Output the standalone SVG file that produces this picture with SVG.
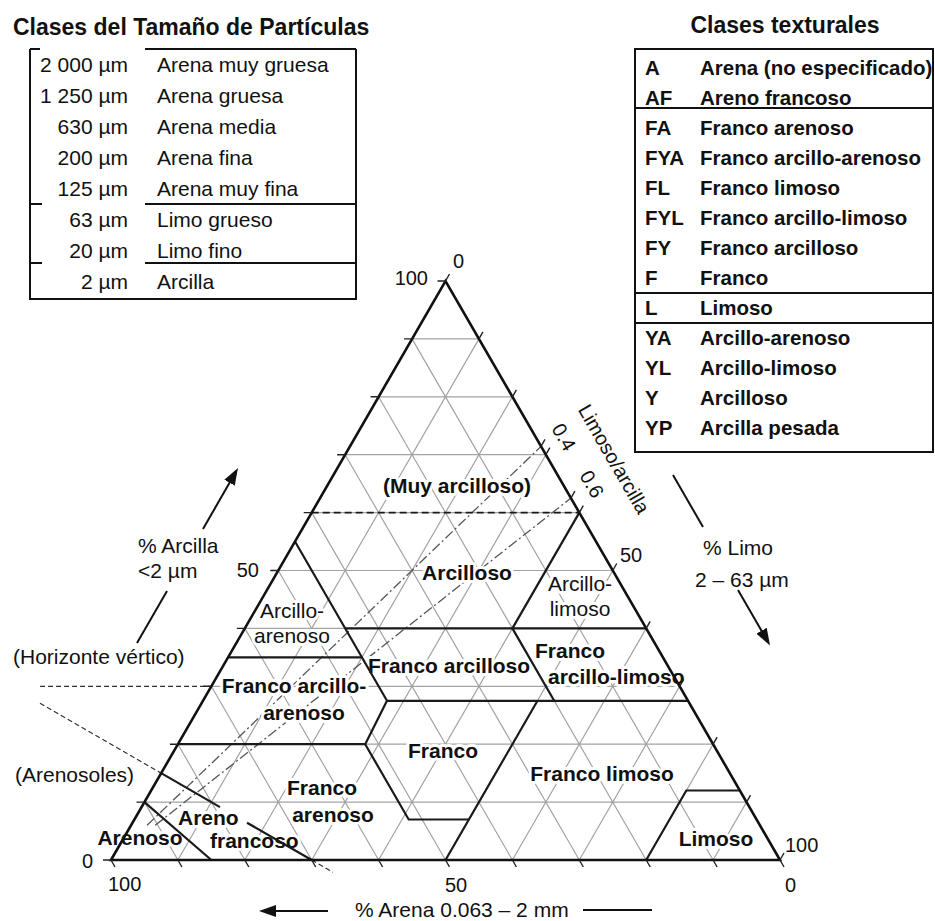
<svg xmlns="http://www.w3.org/2000/svg" width="935" height="921" viewBox="0 0 935 921">
  <style>
    text { font-family: "Liberation Sans", Arial, Helvetica, sans-serif; fill: #111; }
    .ttl { font-size: 23px; font-weight: bold; }
    .lg { font-size: 21px; }
    .lgb { font-size: 20.5px; font-weight: bold; }
    .num { font-size: 20px; }
    .cls { font-size: 21px; font-weight: bold; stroke: #fff; stroke-width: 6; stroke-linejoin: round; paint-order: stroke; }
    .clr { font-size: 21px; stroke: #fff; stroke-width: 6; stroke-linejoin: round; paint-order: stroke; }
    .ann { font-size: 21px; }
    .rot { font-size: 20px; }
    .box { fill: none; stroke: #111; stroke-width: 2; }
    .grid { fill: none; stroke: #a3a3a3; stroke-width: 1.2; }
    .tick { fill: none; stroke: #222; stroke-width: 1.4; }
    .edge { fill: none; stroke: #111; stroke-width: 2.6; stroke-linejoin: miter; }
    .bound { fill: none; stroke: #1a1a1a; stroke-width: 2.2; stroke-linejoin: miter; }
    .heavy { fill: none; stroke: #1a1a1a; stroke-width: 1.8; stroke-dasharray: 7 4; }
    .ext { fill: none; stroke: #333; stroke-width: 1.3; stroke-dasharray: 5 3; }
    .ratio { fill: none; stroke: #555; stroke-width: 1.3; stroke-dasharray: 10 3 2 3; }
    .arr { fill: none; stroke: #111; stroke-width: 2; }
  </style>
  <defs>
    <marker id="head" markerUnits="userSpaceOnUse" markerWidth="17" markerHeight="12" viewBox="0 0 17 12" refX="13" refY="6" orient="auto">
      <path d="M0,0 L17,6 L0,12 Z" fill="#111"/>
    </marker>
  </defs>

  <rect width="935" height="921" fill="#fff"/>

  <!-- Particle size classes table -->
  <g id="particle-sizes">
    <text class="ttl" x="13" y="35">Clases del Tamaño de Partículas</text>
    <path class="box" d="M30 49V299H356V49M30 49H40M145 49H356M30 204H42M145 204H356M30 263H42M145 263H356"/>
    <g class="lg" text-anchor="end">
      <text x="128" y="72">2 000 µm</text>
      <text x="128" y="103">1 250 µm</text>
      <text x="128" y="134">630 µm</text>
      <text x="128" y="165">200 µm</text>
      <text x="128" y="196">125 µm</text>
      <text x="128" y="227">63 µm</text>
      <text x="128" y="258">20 µm</text>
      <text x="128" y="289">2 µm</text>
    </g>
    <g class="lg">
      <text x="157" y="72">Arena muy gruesa</text>
      <text x="157" y="103">Arena gruesa</text>
      <text x="157" y="134">Arena media</text>
      <text x="157" y="165">Arena fina</text>
      <text x="157" y="196">Arena muy fina</text>
      <text x="157" y="227">Limo grueso</text>
      <text x="157" y="258">Limo fino</text>
      <text x="157" y="289">Arcilla</text>
    </g>
  </g>

  <!-- Texture class key -->
  <g id="texture-key">
    <text class="ttl" x="785" y="33" text-anchor="middle">Clases texturales</text>
    <rect class="box" x="635" y="49" width="298" height="403"/>
    <path class="box" d="M635 108H933M635 293H933M635 323H933"/>
    <g class="lgb">
      <text x="645" y="75">A</text><text x="700" y="75">Arena (no especificado)</text>
      <text x="645" y="105">AF</text><text x="700" y="105">Areno francoso</text>
      <text x="645" y="135">FA</text><text x="700" y="135">Franco arenoso</text>
      <text x="645" y="165">FYA</text><text x="700" y="165">Franco arcillo-arenoso</text>
      <text x="645" y="195">FL</text><text x="700" y="195">Franco limoso</text>
      <text x="645" y="225">FYL</text><text x="700" y="225">Franco arcillo-limoso</text>
      <text x="645" y="255">FY</text><text x="700" y="255">Franco arcilloso</text>
      <text x="645" y="285">F</text><text x="700" y="285">Franco</text>
      <text x="645" y="315">L</text><text x="700" y="315">Limoso</text>
      <text x="645" y="345">YA</text><text x="700" y="345">Arcillo-arenoso</text>
      <text x="645" y="375">YL</text><text x="700" y="375">Arcillo-limoso</text>
      <text x="645" y="405">Y</text><text x="700" y="405">Arcilloso</text>
      <text x="645" y="435">YP</text><text x="700" y="435">Arcilla pesada</text>
    </g>
  </g>

  <!-- 10 % grid: clay (horizontal), silt and sand (diagonals) -->
  <g id="grid">
    <path class="grid" d="M144.45 802.1H746.55M177.9 744.2H713.1M211.35 686.3H679.65M244.8 628.4H646.2M278.25 570.5H612.75M311.7 512.6H579.3M345.15 454.7H545.85M378.6 396.8H512.4M412.05 338.9H478.95
      M478.95 338.9L177.9 860M512.4 396.8L244.8 860M545.85 454.7L311.7 860M579.3 512.6L378.6 860M612.75 570.5L445.5 860M646.2 628.4L512.4 860M679.65 686.3L579.3 860M713.1 744.2L646.2 860M746.55 802.1L713.1 860
      M412.05 338.9L713.1 860M378.6 396.8L646.2 860M345.15 454.7L579.3 860M311.7 512.6L512.4 860M278.25 570.5L445.5 860M244.8 628.4L378.6 860M211.35 686.3L311.7 860M177.9 744.2L244.8 860M144.45 802.1L177.9 860"/>
  </g>

  <!-- silt/clay ratio lines and outside extensions -->
  <g id="guides">
    <path class="ratio" d="M147.1 825.3L541 446.4"/>
    <path class="ratio" d="M155.2 825.3L570.9 498.1"/>
    <path class="heavy" d="M311.7 512.6H579.3"/>
    <path class="ext" d="M40 686.3H211.35"/>
    <path class="ext" d="M40 703.2L161.18 773.15M311.7 860L333 872.3"/>
  </g>

  <!-- class names inside the triangle -->
  <g id="class-labels">
    <text class="cls" x="457" y="493" text-anchor="middle">(Muy arcilloso)</text>
    <text class="cls" x="467" y="580" text-anchor="middle">Arcilloso</text>
    <text class="clr" x="292" y="618" text-anchor="middle">Arcillo-</text>
    <text class="clr" x="292" y="643" text-anchor="middle">arenoso</text>
    <text class="clr" x="580" y="591" text-anchor="middle">Arcillo-</text>
    <text class="clr" x="580" y="616" text-anchor="middle">limoso</text>
    <text class="cls" x="449" y="673" text-anchor="middle">Franco arcilloso</text>
    <text class="cls" x="535" y="658">Franco</text>
    <text class="cls" x="548" y="684">arcillo-limoso</text>
    <text class="cls" x="294" y="693" text-anchor="middle">Franco arcillo-</text>
    <text class="cls" x="304" y="720" text-anchor="middle">arenoso</text>
    <text class="cls" x="443" y="758" text-anchor="middle">Franco</text>
    <text class="cls" x="322" y="795" text-anchor="middle">Franco</text>
    <text class="cls" x="333" y="822" text-anchor="middle">arenoso</text>
    <text class="cls" x="602" y="781" text-anchor="middle">Franco limoso</text>
    <text class="cls" x="716" y="846" text-anchor="middle">Limoso</text>
    <text class="cls" x="178" y="825">Areno</text>
    <text class="cls" x="210" y="848">francoso</text>
    <text class="cls" x="140" y="845" text-anchor="middle">Arenoso</text>
  </g>

  <!-- class boundaries and triangle frame -->
  <g id="boundaries">
    <path class="bound" d="M295 541.55L387 700.8L365.2 744.2L408.7 819.5H468.9"/>
    <path class="bound" d="M445.5 860L537.5 700.8"/>
    <path class="bound" d="M387 700.8H688"/>
    <path class="bound" d="M345.2 628.4H646.2"/>
    <path class="bound" d="M228.1 657.35H361.9"/>
    <path class="bound" d="M177.9 744.2H365.2"/>
    <path class="bound" d="M512.4 628.4L554.2 700.8"/>
    <path class="bound" d="M512.4 628.4L579.3 512.6"/>
    <path class="bound" d="M646.2 860L686.3 790.5H739.9"/>
    <path class="bound" d="M161.18 773.15L220 807.1M247 822.7L311.7 860"/>
    <path class="bound" d="M144.45 802.1L211.35 860"/>
    <path class="edge" d="M111 860L445.5 281L780 860Z"/>
    <path class="tick" d="M103 860H111M136.45 802.1H144.45M169.9 744.2H177.9M203.35 686.3H211.35M236.8 628.4H244.8M270.25 570.5H278.25M303.7 512.6H311.7M337.15 454.7H345.15M370.6 396.8H378.6M404.05 338.9H412.05M437.5 281H445.5
      M445.5 281l4 -7M478.95 338.9l4 -7M512.4 396.8l4 -7M545.85 454.7l4 -7M579.3 512.6l4 -7M612.75 570.5l4 -7M646.2 628.4l4 -7M679.65 686.3l4 -7M713.1 744.2l4 -7M746.55 802.1l4 -7M780 860l4 -7
      M111 860l4 7M177.9 860l4 7M244.8 860l4 7M311.7 860l4 7M378.6 860l4 7M445.5 860l4 7M512.4 860l4 7M579.3 860l4 7M646.2 860l4 7M713.1 860l4 7M780 860l4 7
      M541 446.4l4 -7M570.9 498.1l4 -7"/>
  </g>

  <!-- axis values -->
  <g id="axis-values" class="num">
    <text x="428" y="285" text-anchor="end">100</text>
    <text x="453" y="268">0</text>
    <text x="259" y="577" text-anchor="end">50</text>
    <text x="93" y="868" text-anchor="end">0</text>
    <text x="108" y="891">100</text>
    <text x="445" y="892">50</text>
    <text x="785" y="892">0</text>
    <text x="785" y="852">100</text>
    <text x="620" y="562">50</text>
  </g>

  <!-- silt/clay ratio scale -->
  <g id="ratio-labels" class="rot" text-anchor="middle">
    <text transform="translate(564 437) rotate(60)" dy="0.35em">0.4</text>
    <text transform="translate(592 484) rotate(60)" dy="0.35em">0.6</text>
    <text transform="translate(614 459) rotate(60)" dy="0.35em">Limoso/arcilla</text>
  </g>

  <!-- axis titles with direction arrows -->
  <g id="axis-titles">
    <path class="arr" d="M137 643L167 591"/>
    <path class="arr" d="M203 529L236 471.5" marker-end="url(#head)"/>
    <text class="ann" x="138" y="553">% Arcilla</text>
    <text class="ann" x="138" y="578">&lt;2 µm</text>
    <path class="arr" d="M673 475L703 527"/>
    <path class="arr" d="M738 590L768 642" marker-end="url(#head)"/>
    <text class="ann" x="703" y="555">% Limo</text>
    <text class="ann" x="695" y="587">2 – 63 µm</text>
    <path class="arr" d="M328 911H263" marker-end="url(#head)"/>
    <text class="ann" x="355" y="917">% Arena 0.063 – 2 mm</text>
    <path class="arr" d="M583 910H652"/>
  </g>

  <!-- soil horizon notes -->
  <g id="notes">
    <text class="ann" x="13" y="664">(Horizonte vértico)</text>
    <text class="ann" x="15" y="782">(Arenosoles)</text>
  </g>
</svg>
